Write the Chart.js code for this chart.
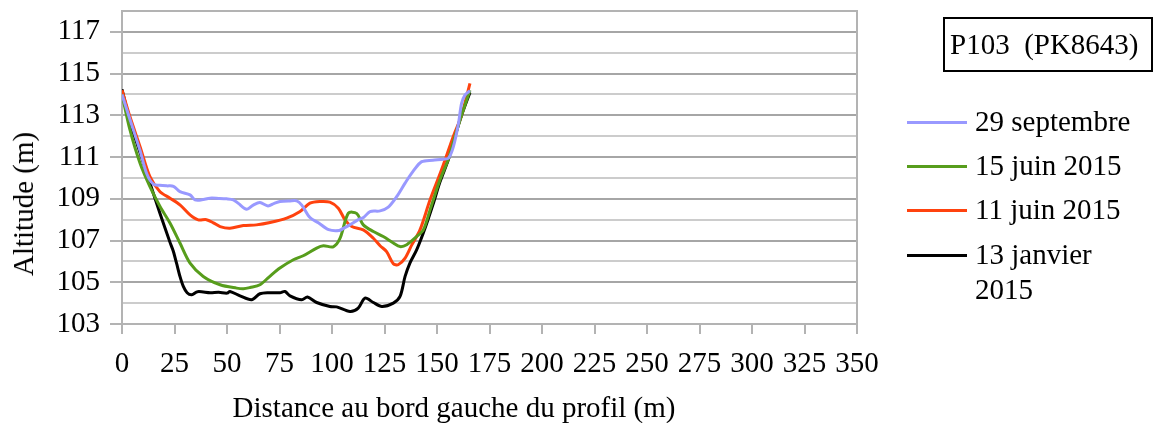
<!DOCTYPE html>
<html>
<head>
<meta charset="utf-8">
<script src="https://cdn.jsdelivr.net/npm/chart.js@4"></script>
<style>
  body { margin: 0; background: #fff; }
  #wrap { position: relative; width: 1155px; height: 423px; font-family: "Liberation Serif", serif; color: #000; }
  #titleBox {
    position: absolute; left: 943px; top: 17px; width: 210px; height: 55px;
    box-sizing: border-box; border: 2px solid #000; font-size: 29px;
    line-height: 51px; padding-left: 5px; white-space: pre;
  }
  .leg { position: absolute; left: 907px; font-size: 29px; }
  .leg span.sw { position: absolute; left: 0; width: 60px; height: 3px; }
  .leg span.tx { position: absolute; left: 68px; width: 180px; line-height: 35px; white-space: nowrap; }
  #xTitle { position: absolute; left: 454px; top: 390px; font-size: 29px; line-height: 34px; white-space: nowrap; transform: translateX(-50%); }
  #yTitle { position: absolute; left: 23px; top: 204px; font-size: 29px; line-height: 34px; white-space: nowrap; transform: translate(-50%, -50%) rotate(-90deg); }
</style>
</head>
<body>
<div id="wrap">
  <canvas id="profil" width="1155" height="423"></canvas>
  <div id="titleBox">P103  (PK8643)</div>
  <div id="xTitle">Distance au bord gauche du profil (m)</div>
  <div id="yTitle">Altitude (m)</div>
  <div id="legend"></div>
</div>
<script>
const seriesNames = ['29 septembre', '15 juin 2015', '11 juin 2015', '13 janvier 2015'];
const seriesColors = ['#9999ff', '#579d1c', '#ff420e', '#000000'];

// 29 septembre
const septDist = [0, 3.8, 8.6, 11.8, 14.9, 18, 21.3, 24.5, 27.6, 32.4, 34.8, 38, 41.9, 46, 49.8, 53, 55.4, 59.4, 62.5, 65.7, 69.5, 72.5, 75.2, 80, 83.2, 85.6, 89.5, 93.5, 98.4, 103.4, 105.4, 108.5, 112.5, 115, 118.1, 122.9, 126.8, 130.8, 134.8, 138.5, 142.7, 148, 153, 155.5, 157.8, 160.2, 161.7, 163.3, 165.7];
const septAlt = [114.0, 112.8, 111.3, 110.2, 109.7, 109.65, 109.62, 109.6, 109.34, 109.19, 108.95, 108.95, 109.03, 109.02, 109.0, 108.95, 108.78, 108.5, 108.7, 108.82, 108.66, 108.78, 108.87, 108.9, 108.9, 108.7, 108.1, 107.85, 107.52, 107.48, 107.58, 107.75, 108.0, 108.1, 108.39, 108.42, 108.6, 109.1, 109.75, 110.3, 110.78, 110.85, 110.9, 110.95, 111.5, 112.6, 113.57, 113.97, 114.18];

// 15 juin 2015
const juin15Dist = [0, 3.8, 8.6, 13.3, 18.1, 22.9, 27.6, 32.4, 38.7, 46.7, 54.6, 57.8, 61, 65.7, 70, 75.2, 81.6, 86.3, 92.7, 95.9, 100.6, 103.8, 107.8, 111.7, 114.9, 119.7, 124.4, 129.2, 132.4, 135.6, 140.3, 143.5, 146.7, 151.4, 155.4, 158.6, 161.7, 165.7];
const juin15Alt = [114.0, 112.3, 110.7, 109.58, 108.63, 107.83, 106.88, 105.92, 105.28, 104.88, 104.72, 104.69, 104.75, 104.88, 105.25, 105.68, 106.08, 106.27, 106.64, 106.75, 106.7, 107.1, 108.31, 108.3, 107.75, 107.43, 107.19, 106.88, 106.71, 106.8, 107.19, 107.51, 108.47, 109.9, 110.9, 112.0, 113.0, 114.2];

// 11 juin 2015
const juin11Dist = [0, 3.8, 8.6, 13.3, 18.1, 22.9, 27.6, 32.4, 36.3, 40.2, 43.5, 46.7, 51.4, 57.8, 64, 70.5, 78.4, 84.8, 89.5, 94.3, 99, 103, 106.2, 109.4, 114.9, 119.7, 122.9, 126, 129.2, 131.5, 134.8, 138, 141.9, 146.7, 152.2, 157.8, 161.7, 165.7];
const juin11Alt = [114.2, 112.93, 111.5, 110.06, 109.34, 109.03, 108.71, 108.23, 107.99, 108.0, 107.85, 107.67, 107.59, 107.72, 107.75, 107.86, 108.07, 108.39, 108.79, 108.87, 108.84, 108.55, 107.99, 107.67, 107.51, 107.11, 106.75, 106.47, 105.89, 105.84, 106.16, 106.79, 107.51, 108.95, 110.4, 112.0, 113.0, 114.53];

// 13 janvier 2015
const janvDist = [0, 3.8, 8.6, 13.3, 18.1, 22.9, 24.4, 26, 27.6, 29.2, 31, 33.2, 36, 42, 46, 50, 51.4, 56.2, 61.7, 65.7, 70, 75.2, 77.6, 80, 85.6, 88.3, 92.7, 99, 102.2, 108.6, 112.5, 115.7, 119.7, 123.7, 129.2, 132.4, 134.8, 137.1, 140.3, 144.3, 148, 151.4, 155.5, 158.6, 161.7, 165.7];
const janvAlt = [114.25, 112.7, 111.2, 109.76, 108.3, 106.9, 106.5, 105.9, 105.28, 104.8, 104.5, 104.4, 104.55, 104.5, 104.52, 104.48, 104.56, 104.35, 104.16, 104.45, 104.5, 104.5, 104.56, 104.35, 104.16, 104.29, 104.03, 103.84, 103.82, 103.6, 103.76, 104.24, 104.03, 103.84, 104.0, 104.32, 105.28, 105.92, 106.55, 107.59, 108.7, 109.8, 110.9, 112.0, 113.0, 114.1];

const distances = [septDist, juin15Dist, juin11Dist, janvDist];
const altitudes = [septAlt, juin15Alt, juin11Alt, janvAlt];

function toPoints(xs, ys) {
    return xs.map((x, i) => ({ x: x, y: ys[i] }));
}

// legend in html so the last label can wrap like the original
const legendTops = [122, 166, 210, 255];
const legendDiv = document.getElementById('legend');
seriesNames.forEach((name, i) => {
    const item = document.createElement('div');
    item.className = 'leg';
    item.style.top = legendTops[i] + 'px';
    const sw = document.createElement('span');
    sw.className = 'sw';
    sw.style.background = seriesColors[i];
    sw.style.top = '-1px';
    const tx = document.createElement('span');
    tx.className = 'tx';
    tx.style.top = '-18px';
    tx.innerHTML = name === '13 janvier 2015' ? '13 janvier<br>2015' : name;
    item.appendChild(sw);
    item.appendChild(tx);
    legendDiv.appendChild(item);
});

const frame = {
    id: 'frame',
    beforeDatasetsDraw(chart) {
        const a = chart.chartArea, ctx = chart.ctx;
        ctx.save();
        ctx.strokeStyle = '#b3b3b3';
        ctx.lineWidth = 2;
        ctx.beginPath();
        ctx.moveTo(a.left, a.top);
        ctx.lineTo(a.right, a.top);
        ctx.lineTo(a.right, a.bottom);
        ctx.stroke();
        ctx.restore();
    }
};

Chart.defaults.font.family = '"Liberation Serif", serif';
Chart.defaults.font.size = 29;
Chart.defaults.color = '#000';

const ctx = document.getElementById('profil').getContext('2d');
new Chart(ctx, {
    type: 'scatter',
    data: {
        datasets: seriesNames.map((name, i) => ({
            label: name,
            data: toPoints(distances[i], altitudes[i]),
            showLine: true,
            borderColor: seriesColors[i],
            backgroundColor: seriesColors[i],
            borderWidth: 3,
            pointRadius: 0,
            tension: 0.3,
            order: i
        }))
    },
    options: {
        responsive: false,
        animation: false,
        layout: { padding: { top: 11, right: 298, left: 0, bottom: 0 } },
        plugins: {
            legend: { display: false },
            tooltip: { enabled: false }
        },
        scales: {
            x: {
                type: 'linear',
                min: 0,
                max: 350,
                ticks: { stepSize: 25, padding: 13, maxRotation: 0, autoSkip: false },
                grid: { drawOnChartArea: false, tickLength: 10, tickColor: '#b3b3b3', lineWidth: 2 },
                border: { color: '#b3b3b3', width: 2 },
                afterFit(scale) { scale.height = 99; }
            },
            y: {
                min: 103,
                max: 118,
                ticks: {
                    stepSize: 1,
                    padding: 10,
                    autoSkip: false,
                    callback: v => (v % 2 === 1 ? v : '')
                },
                grid: {
                    color: c => (c.tick && c.tick.value % 2 === 1 ? '#a6a6a6' : '#cccccc'),
                    tickColor: c => (c.tick && c.tick.value % 2 === 1 ? '#b3b3b3' : 'rgba(0,0,0,0)'),
                    lineWidth: 2,
                    tickLength: 12
                },
                border: { color: '#b3b3b3', width: 2 },
                afterFit(scale) {
                    scale.width = 122;
                    scale.paddingTop = 0;
                    scale.paddingBottom = 0;
                }
            }
        }
    },
    plugins: [frame]
});
</script>
</body>
</html>
